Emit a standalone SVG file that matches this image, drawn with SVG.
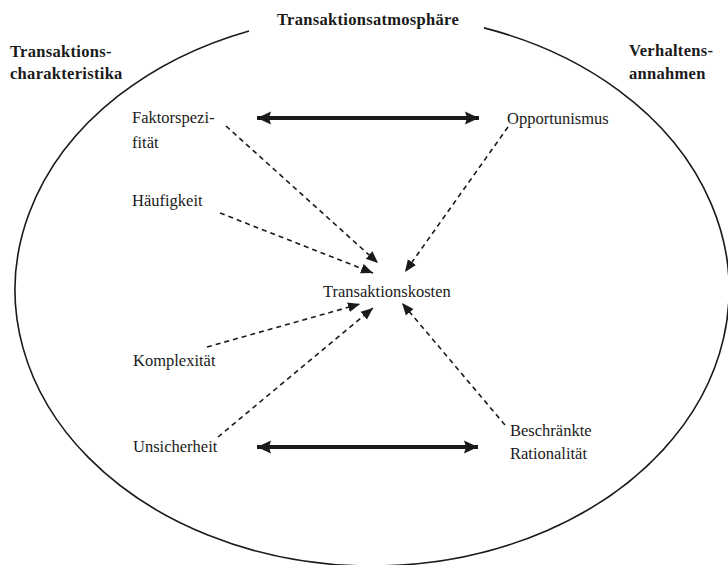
<svg xmlns="http://www.w3.org/2000/svg" width="728" height="565" viewBox="0 0 728 565">
<style>
.bold{font-family:"Liberation Serif",serif;font-weight:bold;font-size:16.5px;fill:#1a1a1a;letter-spacing:0.3px}
.lbl{font-family:"Liberation Serif",serif;font-size:16.5px;fill:#1a1a1a}
.dash{stroke:#1a1a1a;stroke-width:1.6;stroke-dasharray:5 4;fill:none;marker-end:url(#ah)}
.thick{stroke:#1a1a1a;stroke-width:3.8;fill:none;marker-start:url(#big);marker-end:url(#big)}
</style>
<defs>
<marker id="ah" markerUnits="userSpaceOnUse" markerWidth="14" markerHeight="12" refX="12" refY="5" orient="auto" viewBox="0 0 14 10">
<path d="M0,0 L12,5 L0,10 Z" fill="#1a1a1a" stroke="none"/>
</marker>
<marker id="big" markerUnits="userSpaceOnUse" markerWidth="16" markerHeight="14" refX="14" refY="7" orient="auto-start-reverse" viewBox="0 0 16 14">
<path d="M0,0.5 L14,7 L0,13.5 L2,7 Z" fill="#1a1a1a" stroke="none"/>
</marker>
</defs>
<rect width="728" height="565" fill="#fff"/>
<g id="atmosphere">
<path d="M484,27.9 A357,276 0 1 1 249,30.9" fill="none" stroke="#1a1a1a" stroke-width="1.6"/>
<text class="bold" x="277" y="25">Transaktionsatmosphäre</text>
</g>
<g id="charakteristika">
<text class="bold" x="10" y="57">Transaktions-</text>
<text class="bold" x="10" y="79">charakteristika</text>
</g>
<g id="verhaltensannahmen">
<text class="bold" x="629" y="56">Verhaltens-</text>
<text class="bold" x="629" y="79">annahmen</text>
</g>
<g id="faktorspezifitaet"><text class="lbl" x="132" y="123">Faktorspezi-</text><text class="lbl" x="132" y="148">fität</text></g>
<g id="haeufigkeit"><text class="lbl" x="132" y="206">Häufigkeit</text></g>
<g id="komplexitaet"><text class="lbl" x="133" y="366">Komplexität</text></g>
<g id="unsicherheit"><text class="lbl" x="133" y="452">Unsicherheit</text></g>
<g id="opportunismus"><text class="lbl" x="507" y="124">Opportunismus</text></g>
<g id="rationalitaet"><text class="lbl" x="510" y="436">Beschränkte</text><text class="lbl" x="510" y="459">Rationalität</text></g>
<g id="transaktionskosten"><text class="lbl" x="323" y="297">Transaktionskosten</text></g>
<g id="connectors">
<line class="thick" x1="257" y1="118" x2="479" y2="118"/>
<line class="thick" x1="257" y1="447" x2="478" y2="447"/>
<line class="dash" x1="226" y1="126" x2="378" y2="263"/>
<line class="dash" x1="220" y1="213" x2="373" y2="273"/>
<line class="dash" x1="508" y1="127" x2="405" y2="272"/>
<line class="dash" x1="207" y1="347" x2="360" y2="304"/>
<line class="dash" x1="218" y1="437" x2="373" y2="308"/>
<line class="dash" x1="505" y1="425" x2="402" y2="303"/>
</g>
</svg>
